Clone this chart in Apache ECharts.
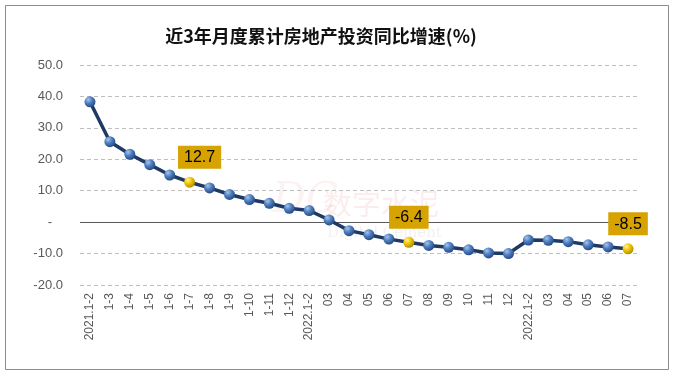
<!DOCTYPE html>
<html>
<head>
<meta charset="utf-8">
<script src="https://cdn.jsdelivr.net/npm/echarts@6/dist/echarts.min.js"></script>
<style>
html,body{margin:0;padding:0;background:#fff;}
#c{width:674px;height:375px;}
</style>
</head>
<body>
<div id="c"></div>
<script>
const titleText = '近3年月度累计房地产投资同比增速(%)';
const categories = ['2021.1-2','1-3','1-4','1-5','1-6','1-7','1-8','1-9','1-10','1-11','1-12',
  '2022.1-2','03','04','05','06','07','08','09','10','11','12',
  '2022.1-2','03','04','05','06','07'];
const values = [38.3,25.6,21.6,18.3,15.0,12.7,10.9,8.8,7.2,6.0,4.4,
  3.7,0.7,-2.7,-4.0,-5.4,-6.4,-7.4,-8.0,-8.8,-9.8,-10.0,
  -5.7,-5.8,-6.2,-7.2,-7.9,-8.5];
const highlightIdx = [5, 16, 27];
const yTicks = {min: -20, max: 50, interval: 10};

const blueBall = new echarts.graphic.RadialGradient(0.35, 0.3, 0.75, [
  {offset: 0, color: '#A9C4EA'},
  {offset: 0.45, color: '#4F7FC0'},
  {offset: 1, color: '#23467E'}
]);
const goldBall = new echarts.graphic.RadialGradient(0.35, 0.3, 0.75, [
  {offset: 0, color: '#FFF3A0'},
  {offset: 0.45, color: '#F2C400'},
  {offset: 1, color: '#A98A00'}
]);

const seriesData = values.map((v, i) => {
  const hl = highlightIdx.includes(i);
  const item = {value: v};
  if (hl) {
    item.itemStyle = {color: goldBall};
    item.label = {
      show: true,
      position: 'top',
      distance: 8,
      offset: i === 5 ? [10, 0] : [0, 0],
      formatter: p => p.value.toFixed(1),
      backgroundColor: '#D6A300',
      color: '#000',
      fontSize: 16,
      fontFamily: 'Liberation Sans, Arial, sans-serif',
      padding: [4, 6, 3, 6]
    };
  }
  return item;
});

const chart = echarts.init(document.getElementById('c'), null, {renderer: 'canvas'});
chart.setOption({
  backgroundColor: '#fff',
  animation: false,
  graphic: [
    {type: 'rect', shape: {x: 5.5, y: 5.5, width: 663, height: 364},
     style: {fill: 'none', stroke: '#8C8C8C', lineWidth: 1}, z: -1},
    {type: 'text', left: 323, top: 189, z: 0,
     style: {text: '数字水泥', font: '29px "Noto Sans CJK SC"', fill: 'rgba(220,110,110,0.12)'}},
    {type: 'text', left: 272, top: 180, z: 0,
     style: {text: 'DC', font: 'italic 42px "DejaVu Serif"', fill: 'rgba(220,110,110,0.09)'}},
    {type: 'text', left: 327, top: 226, z: 0,
     style: {text: 'Digital Cement', font: '15px "DejaVu Serif"', fill: 'rgba(120,120,150,0.10)'}}
  ],
  title: {
    text: titleText,
    left: 316, textAlign: 'center', top: 22,
    textStyle: {fontSize: 18, fontWeight: 'bold', color: '#111', fontFamily: '"Noto Sans CJK SC", sans-serif'}
  },
  grid: {left: 80, right: 36, top: 65, bottom: 90},
  xAxis: {
    type: 'category',
    data: categories,
    boundaryGap: true,
    axisLine: {show: false, onZero: false},
    axisTick: {show: false},
    axisLabel: {
      rotate: 90, interval: 0, margin: 8,
      color: '#595959', fontSize: 12, fontFamily: 'Liberation Sans, Arial, sans-serif'
    },
    splitLine: {show: false}
  },
  yAxis: {
    type: 'value',
    min: yTicks.min, max: yTicks.max, interval: yTicks.interval,
    axisLine: {show: false},
    axisTick: {show: false},
    axisLabel: {
      margin: 17,
      color: '#595959', fontSize: 13, fontFamily: 'Liberation Sans, Arial, sans-serif',
      formatter: v => v === 0 ? '-   ' : v.toFixed(1)
    },
    splitLine: {show: true, lineStyle: {color: '#BFBFBF', type: [4, 3], width: 1}}
  },
  series: [{
    type: 'line',
    data: seriesData,
    symbol: 'circle',
    symbolSize: 11,
    lineStyle: {color: '#1E3A64', width: 3.5},
    itemStyle: {color: blueBall},
    z: 3,
    markLine: {
      silent: true,
      symbol: ['none', 'none'],
      label: {show: false},
      lineStyle: {color: '#595959', type: 'solid', width: 1},
      data: [{yAxis: 0}],
      z: 1
    }
  }]
});
</script>
</body>
</html>
